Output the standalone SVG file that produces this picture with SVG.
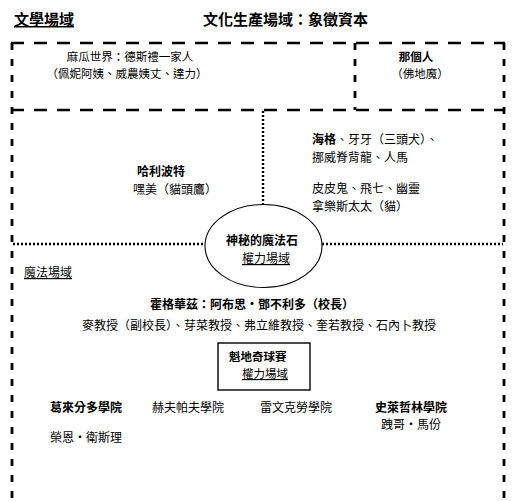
<svg xmlns="http://www.w3.org/2000/svg" width="516" height="501" viewBox="0 0 516 501">
<style>
text{font-family:"Noto Sans CJK TC","Noto Sans CJK SC",sans-serif;font-size:12px;fill:#000}
.t{font-size:15px;font-weight:bold}
.b{font-weight:bold}
.u{text-decoration:underline}
.m{text-anchor:middle}
.s{font-size:11.5px}
.dh{fill:none;stroke:#000;stroke-width:2.6;stroke-dasharray:13 10}
.dv{fill:none;stroke:#000;stroke-width:2.8;stroke-dasharray:7 9}
.dot{fill:none;stroke:#000;stroke-width:2.4;stroke-dasharray:2 2}
</style>
<rect width="516" height="501" fill="#fff"/>
<g id="titles">
<text class="t u" x="14" y="25">文學場域</text>
<text class="t" x="203" y="25">文化生產場域：象徵資本</text>
</g>
<g id="frame">
<line class="dh" x1="11" y1="43" x2="505" y2="43"/>
<line class="dh" x1="11" y1="110" x2="505" y2="110"/>
<line class="dv" x1="12" y1="43" x2="12" y2="501"/>
<line class="dv" x1="504" y1="43" x2="504" y2="501"/>
<line class="dv" x1="355" y1="43" x2="355" y2="110"/>
</g>
<g id="connectors">
<line class="dot" x1="263" y1="111" x2="263" y2="205"/>
<line class="dot" x1="13" y1="244" x2="205" y2="244"/>
<line class="dot" x1="322" y1="244" x2="503" y2="244"/>
</g>
<g id="muggle">
<text class="m s" x="130" y="61">麻瓜世界：德斯禮一家人</text>
<text class="m s" x="127" y="78">（佩妮阿姨、威農姨丈、達力）</text>
</g>
<g id="voldemort">
<text class="b m s" x="416" y="61">那個人</text>
<text class="m s" x="420" y="78">（佛地魔）</text>
</g>
<g id="harry">
<text class="b" x="137" y="176">哈利波特</text>
<text x="133" y="194">嘿美（貓頭鷹）</text>
</g>
<g id="creatures">
<text x="312" y="144"><tspan font-weight="bold">海格</tspan>、牙牙（三頭犬）、</text>
<text x="312" y="162">挪威脊背龍、人馬</text>
<text x="312" y="193">皮皮鬼、飛七、幽靈</text>
<text x="312" y="211">拿樂斯太太（貓）</text>
</g>
<g id="stone">
<ellipse cx="263.5" cy="246" rx="58.5" ry="41.5" fill="none" stroke="#000" stroke-width="1.1"/>
<text class="b m" x="262" y="245">神秘的魔法石</text>
<text class="u m" x="266" y="263">權力場域</text>
</g>
<g id="magic-field">
<text class="u" x="24" y="277">魔法場域</text>
</g>
<g id="hogwarts">
<text class="b" x="150" y="309">霍格華茲：阿布思・鄧不利多（校長）</text>
<text x="82" y="330">麥教授（副校長）、芽菜教授、弗立維教授、奎若教授、石內卜教授</text>
</g>
<g id="quidditch">
<rect x="218" y="343" width="92" height="47" fill="none" stroke="#000" stroke-width="1.4"/>
<text class="b s" x="229" y="361">魁地奇球賽</text>
<text class="u s" x="242" y="378">權力場域</text>
</g>
<g id="gryffindor">
<text class="b" x="50" y="412">葛來分多學院</text>
<text x="50" y="442">榮恩・衛斯理</text>
</g>
<g id="hufflepuff">
<text x="152" y="412">赫夫帕夫學院</text>
</g>
<g id="ravenclaw">
<text x="260" y="412">雷文克勞學院</text>
</g>
<g id="slytherin">
<text class="b" x="375" y="412">史萊哲林學院</text>
<text x="381" y="429">跩哥・馬份</text>
</g>
</svg>
